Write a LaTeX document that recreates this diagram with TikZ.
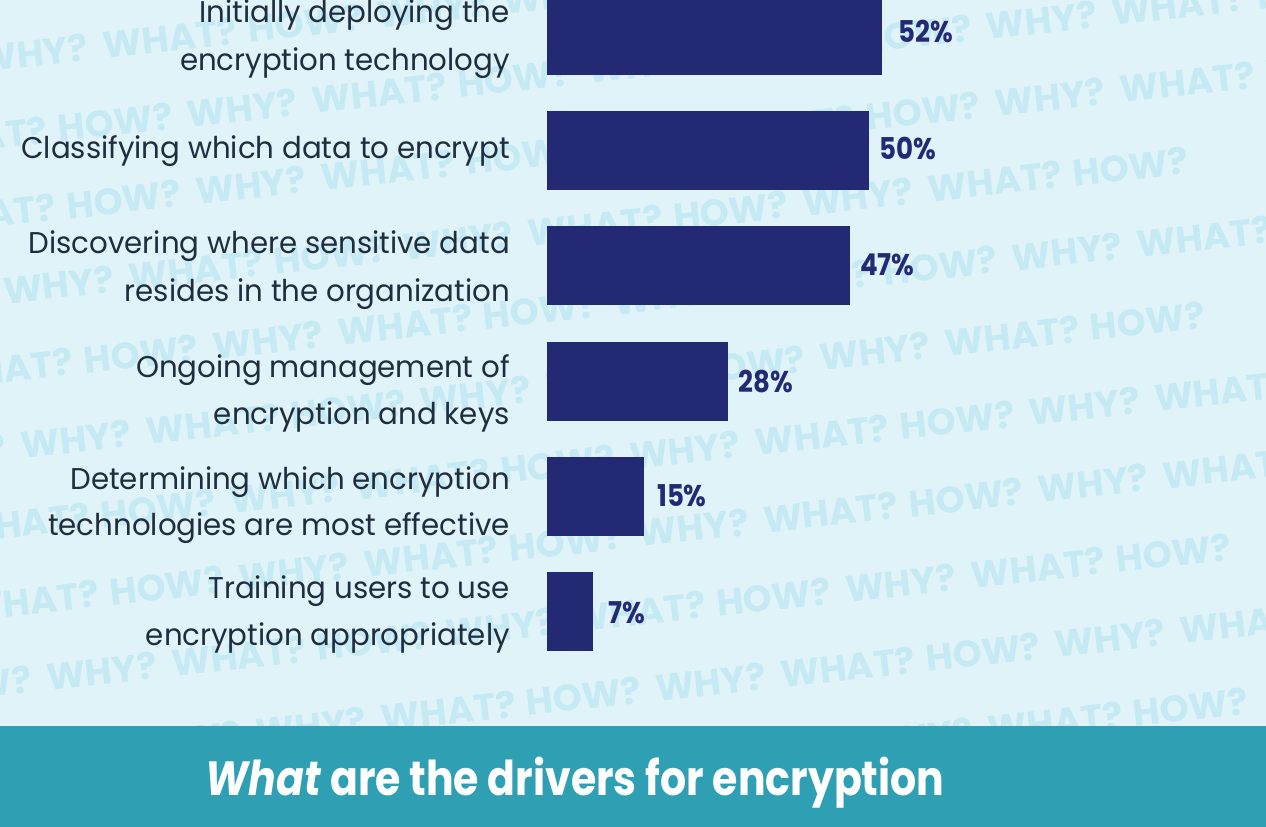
\documentclass[tikz,border=0pt]{standalone}
\usepackage{fontspec}
\setmainfont{Poppins}
\newfontfamily\narrowfont{Poppins}[FakeStretch=0.87]
\newfontfamily\titlefont{Poppins}[FakeStretch=0.855]
\newfontfamily\labelfont{Poppins}[FakeStretch=0.975]
\definecolor{bgc}{HTML}{E0F3F9}
\definecolor{wmc}{HTML}{C6EAF3}
\definecolor{barc}{HTML}{232A73}
\definecolor{txtc}{HTML}{1F2D3E}
\definecolor{banc}{HTML}{2FA0B3}
\newcommand\wmper{\makebox[126pt][l]{WHY?}\makebox[146pt][l]{WHAT?}\makebox[130pt][l]{HOW?}}
\tikzset{
  bar/.style={fill=barc, inner sep=0pt, minimum height=79pt, anchor=west},
  lbl/.style={text=txtc, inner sep=0pt, anchor=base east, font=\labelfont\fontsize{30}{36}\selectfont},
  pct/.style={text=barc, inner sep=0pt, anchor=base west, font=\narrowfont\bfseries\fontsize{30}{36}\selectfont},
  wm/.style={text=wmc, inner sep=0pt, anchor=base west, rotate=6.3, font=\bfseries\fontsize{37}{37}\selectfont},
}
\begin{document}
\begin{tikzpicture}[x=1pt,y=-1pt]
\useasboundingbox (0,0) rectangle (1266,827);
\fill[bgc] (0,0) rectangle (1266,827);
% watermark
\begin{scope}
\clip (0,0) rectangle (1266,726);
\foreach \k/\xs/\n in {-1/-420.4/4, 0/-211/5, 1/-202.4/5, 2/-394.6/4, 3/-185.2/5, 4/-377.4/4, 5/-168/5, 6/-159.4/5, 7/-351.6/4, 8/-142.2/5, 9/-334.4/4}{
  \pgfmathsetmacro\yy{148.4+78.2*\k-0.1104*\xs}
  \node[wm] (wm\k) at (\xs,\yy) {\foreach \r in {1,...,\n}{\wmper}};
}
\end{scope}
% bars
\node[bar, minimum width=335pt] (bar1) at (547,35) {};
\node[bar, minimum width=322pt] (bar2) at (547,150.5) {};
\node[bar, minimum width=303pt] (bar3) at (547,265.5) {};
\node[bar, minimum width=181pt] (bar4) at (547,381.5) {};
\node[bar, minimum width=97pt] (bar5) at (547,496.5) {};
\node[bar, minimum width=46pt] (bar6) at (547,611.5) {};
% percentages
\node[pct] (p1) at (898,42) {52\%};
\node[pct] (p2) at (879,159) {50\%};
\node[pct] (p3) at (860,275) {47\%};
\node[pct] (p4) at (738,392) {28\%};
\node[pct] (p5) at (657,506) {15\%};
\node[pct] (p6) at (608,623) {7\%};
% labels
\node[lbl] (l1a) at (510,23) {Initially deploying the};
\node[lbl] (l1b) at (510,70) {encryption technology};
\node[lbl] (l2) at (510,158) {Classifying which data to encrypt};
\node[lbl] (l3a) at (510,253) {Discovering where sensitive data};
\node[lbl] (l3b) at (510,301) {resides in the organization};
\node[lbl] (l4a) at (510,377) {Ongoing management of};
\node[lbl] (l4b) at (510,424) {encryption and keys};
\node[lbl] (l5a) at (510,489) {Determining which encryption};
\node[lbl] (l5b) at (510,535) {technologies are most effective};
\node[lbl] (l6a) at (510,598) {Training users to use};
\node[lbl] (l6b) at (510,645) {encryption appropriately};
% banner
\node[fill=banc, inner sep=0pt, minimum width=1266pt, minimum height=101pt, anchor=north west] (banner) at (0,726) {};
\node[text=white, inner sep=0pt, anchor=base, font=\titlefont\bfseries\fontsize{48}{48}\selectfont] (title) at (575,795) {\textit{What} are the drivers for encryption};
\end{tikzpicture}
\end{document}
